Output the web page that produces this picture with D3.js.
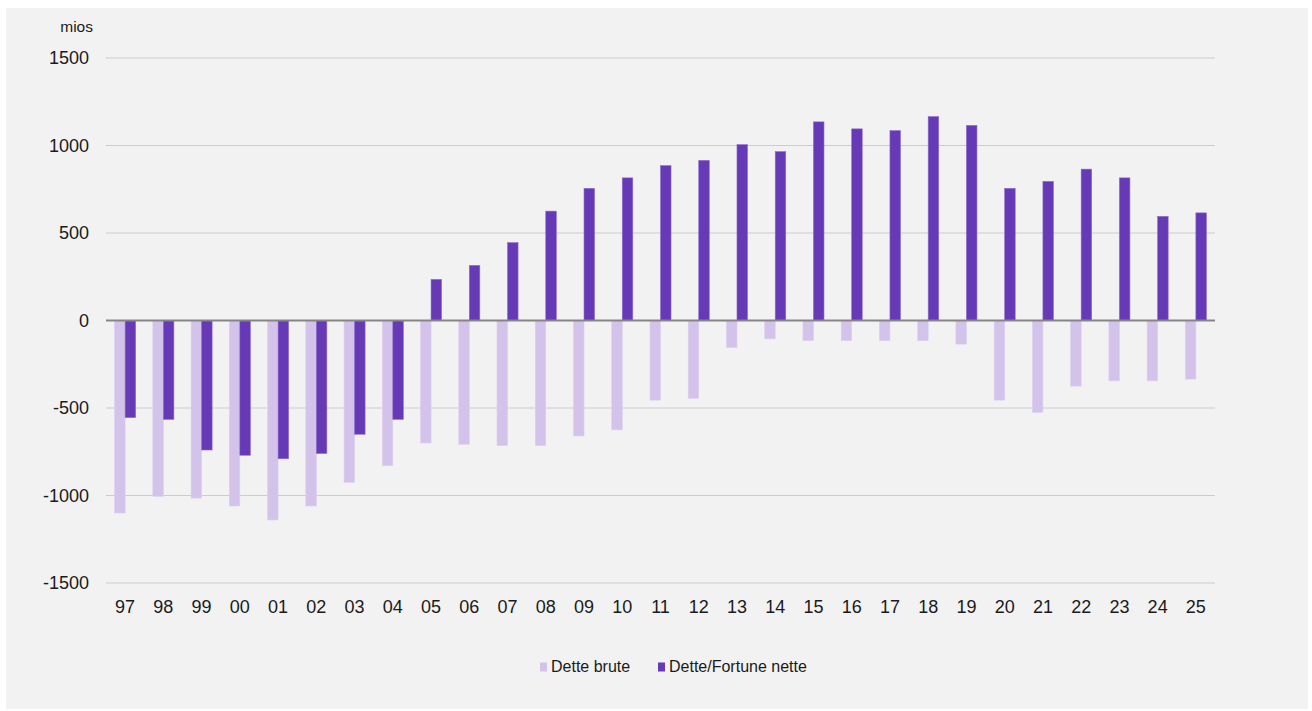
<!DOCTYPE html>
<html>
<head>
<meta charset="utf-8">
<script src="https://cdn.jsdelivr.net/npm/d3@7"></script>
<style>
  html, body { margin: 0; padding: 0; background: #ffffff; }
  svg { display: block; font-family: "Liberation Sans", Arial, sans-serif; }
</style>
</head>
<body>
<svg id="chart" width="1312" height="711"></svg>
<script>
// Years (two-digit labels)
const years = ["97","98","99","00","01","02","03","04","05","06","07","08","09","10",
               "11","12","13","14","15","16","17","18","19","20","21","22","23","24","25"];

// Gross debt (millions)
const detteBrute = [-1100,-1005,-1015,-1060,-1140,-1060,-925,-830,-700,-708,-715,-715,-660,-625,
                    -455,-445,-155,-105,-115,-115,-115,-115,-135,-455,-525,-375,-345,-345,-335];

// Net debt / net wealth (millions)
const detteNette = [-555,-565,-740,-770,-790,-760,-650,-565,235,315,445,625,755,815,
                    885,915,1005,965,1135,1095,1085,1165,1115,755,795,865,815,595,615];

const yTicks = [-1500,-1000,-500,0,500,1000,1500];

const seriesNames = ["Dette brute", "Dette/Fortune nette"];
const seriesColors = ["#d3c3ea", "#6639b7"];
const seriesStrokes = ["#dccff0", "#8c6bcc"];

const svg = d3.select("#chart");

// Chart panel background
svg.append("rect")
  .attr("x", 6).attr("y", 8)
  .attr("width", 1302).attr("height", 701)
  .attr("fill", "#f2f2f2");

const plot = { left: 106, right: 1215, top: 58, bottom: 583 };

const x = d3.scaleBand()
  .domain(years)
  .range([plot.left, plot.right])
  .paddingInner(0.45)
  .paddingOuter(0.225);

const xs = d3.scaleBand()
  .domain([0, 1])
  .range([0, x.bandwidth()]);

const y = d3.scaleLinear()
  .domain([-1500, 1500])
  .range([plot.bottom, plot.top]);

// Gridlines
svg.append("g")
  .selectAll("line")
  .data(yTicks.filter(d => d !== 0))
  .join("line")
  .attr("x1", plot.left).attr("x2", plot.right)
  .attr("y1", d => y(d)).attr("y2", d => y(d))
  .attr("stroke", "#cccccc")
  .attr("stroke-width", 1.2);

// Y axis labels
const yAxis = d3.axisLeft(y).tickValues(yTicks).tickSize(0).tickPadding(17)
  .tickFormat(d => String(d));
const gy = svg.append("g")
  .attr("transform", `translate(${plot.left},0)`)
  .call(yAxis);
gy.select(".domain").remove();
gy.selectAll("text")
  .attr("font-size", 18)
  .attr("fill", "#1a1a1a")
  .attr("font-family", "Liberation Sans, Arial, sans-serif");

// Unit label
svg.append("text")
  .attr("x", 93).attr("y", 31.5)
  .attr("text-anchor", "end")
  .attr("font-size", 15.5)
  .attr("fill", "#1a1a1a")
  .text("mios");

// Bars
const series = [detteBrute, detteNette];
series.forEach((vals, si) => {
  svg.append("g")
    .selectAll("rect")
    .data(vals.map((v, i) => ({ year: years[i], v })))
    .join("rect")
    .attr("x", d => x(d.year) + xs(si))
    .attr("width", xs.bandwidth())
    .attr("y", d => y(Math.max(0, d.v)))
    .attr("height", d => Math.abs(y(d.v) - y(0)))
    .attr("fill", seriesColors[si])
    .attr("stroke", seriesStrokes[si])
    .attr("stroke-width", 0.6);
});

// Zero line
svg.append("line")
  .attr("x1", plot.left).attr("x2", plot.right)
  .attr("y1", y(0)).attr("y2", y(0))
  .attr("stroke", "#858585")
  .attr("stroke-width", 2);

// X axis labels
const xAxis = d3.axisBottom(x).tickSize(0).tickPadding(0);
const gx = svg.append("g")
  .attr("transform", `translate(0,613)`)
  .call(xAxis);
gx.select(".domain").remove();
gx.selectAll("text")
  .attr("font-size", 18)
  .attr("fill", "#1a1a1a")
  .attr("dy", "0")
  .attr("y", 0)
  .attr("font-family", "Liberation Sans, Arial, sans-serif");

// Legend
const legendItems = [
  { name: seriesNames[0], color: seriesColors[0], x: 540 },
  { name: seriesNames[1], color: seriesColors[1], x: 658 }
];
const lg = svg.append("g");
legendItems.forEach(it => {
  lg.append("rect")
    .attr("x", it.x).attr("y", 662.5)
    .attr("width", 7).attr("height", 9)
    .attr("fill", it.color);
  lg.append("text")
    .attr("x", it.x + 11).attr("y", 671.5)
    .attr("font-size", 16)
    .attr("fill", "#1a1a1a")
    .text(it.name);
});
</script>
</body>
</html>
